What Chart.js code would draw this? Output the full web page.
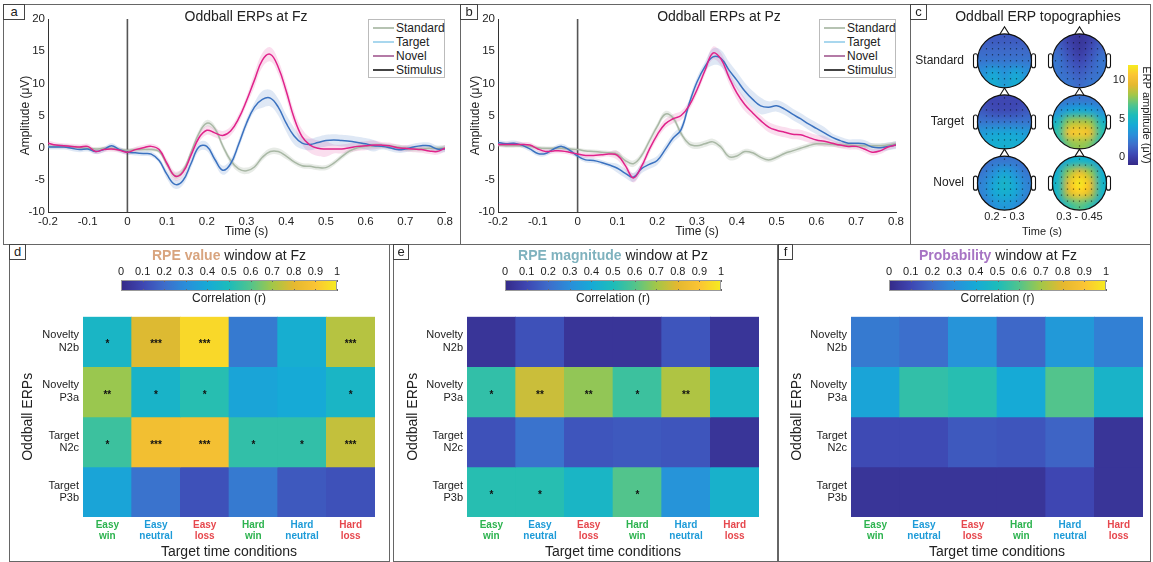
<!DOCTYPE html>
<html><head><meta charset="utf-8">
<script src="https://cdn.jsdelivr.net/npm/chart.js@4.4.1/dist/chart.umd.min.js"></script>
<style>
body{margin:0;width:1153px;height:562px;background:#fff;position:relative;overflow:hidden;font-family:'Liberation Sans',Arial,sans-serif;color:#222}
.frame{position:absolute;border:1px solid #666;box-sizing:border-box}
.lab{position:absolute;border:1px solid #444;background:#fff;font-size:13px;line-height:14px;text-align:center;box-sizing:border-box;z-index:5}
canvas{position:absolute}
.title{position:absolute;font-size:14px;white-space:nowrap;transform:translateX(-50%);line-height:16px;z-index:4}
.legend{position:absolute;border:1px solid #bbb;background:#fff;font-size:12px;box-sizing:border-box;padding-top:1px;z-index:4}
.legend div{height:14px;line-height:14px;position:relative;padding-left:27px}
.legend span{position:absolute;left:4px;top:6px;width:21px;height:0;border-top:2px solid}
</style></head><body>
<div class="frame" style="left:3px;top:4px;width:458px;height:241px"></div>
<div class="frame" style="left:460px;top:4px;width:451px;height:241px"></div>
<div class="frame" style="left:910px;top:4px;width:241px;height:241px"></div>
<div class="frame" style="left:9px;top:244px;width:381px;height:318px"></div>
<div class="frame" style="left:393px;top:244px;width:385px;height:318px"></div>
<div class="frame" style="left:778px;top:244px;width:373px;height:318px"></div>
<div class="lab" style="left:3px;top:4px;width:22px;height:16px">a</div>
<div class="lab" style="left:460px;top:4px;width:18px;height:16px">b</div>
<div class="lab" style="left:910px;top:4px;width:17px;height:16px">c</div>
<div class="lab" style="left:9px;top:244px;width:17px;height:16px">d</div>
<div class="lab" style="left:393px;top:244px;width:16px;height:16px">e</div>
<div class="lab" style="left:778px;top:244px;width:15px;height:16px">f</div>
<div class="title" style="left:246px;top:8px">Oddball ERPs at Fz</div>
<div class="title" style="left:719px;top:8px">Oddball ERPs at Pz</div>
<div class="title" style="left:1038px;top:8px">Oddball ERP topographies</div>
<div class="title" style="left:229px;top:247px"><b style="color:#d8a47e">RPE value</b> window at Fz</div>
<div class="title" style="left:613px;top:247px"><b style="color:#7fb2be">RPE magnitude</b> window at Pz</div>
<div class="title" style="left:998px;top:247px"><b style="color:#a774c4">Probability</b> window at Fz</div>

<canvas id="ca" width="455" height="238" style="left:4px;top:5px"></canvas>
<canvas id="cb" width="448" height="238" style="left:461px;top:5px"></canvas>
<canvas id="cc" width="238" height="224" style="left:911px;top:20px"></canvas>
<canvas id="ccb" width="53" height="120" style="left:1100px;top:55px"></canvas>
<canvas id="cdb" width="256" height="46" style="left:101px;top:262px"></canvas>
<canvas id="ceb" width="256" height="46" style="left:485px;top:262px"></canvas>
<canvas id="cfb" width="257" height="46" style="left:869px;top:262px"></canvas>
<canvas id="cd" width="377" height="262" style="left:10px;top:300px"></canvas>
<canvas id="ce" width="382" height="262" style="left:394px;top:300px"></canvas>
<canvas id="cf" width="372" height="262" style="left:779px;top:300px"></canvas>

<div class="legend" style="left:368px;top:19px;width:77px;height:59px">
<div><span style="border-color:#b6c3b2"></span>Standard</div>
<div><span style="border-color:#a9d7ee"></span>Target</div>
<div><span style="border-color:#b47aa6"></span>Novel</div>
<div><span style="border-color:#444"></span>Stimulus</div>
</div>
<div class="legend" style="left:819px;top:19px;width:77px;height:59px">
<div><span style="border-color:#b6c3b2"></span>Standard</div>
<div><span style="border-color:#a9d7ee"></span>Target</div>
<div><span style="border-color:#b47aa6"></span>Novel</div>
<div><span style="border-color:#444"></span>Stimulus</div>
</div>

<script>
// ---------------- DATA ----------------
const times = [-0.20,-0.18,-0.16,-0.14,-0.12,-0.10,-0.08,-0.06,-0.04,-0.02,0.00,0.02,0.04,0.06,0.08,0.10,0.12,0.14,0.16,0.18,0.20,0.22,0.24,0.26,0.28,0.30,0.32,0.34,0.36,0.38,0.40,0.42,0.44,0.46,0.48,0.50,0.52,0.54,0.56,0.58,0.60,0.62,0.64,0.66,0.68,0.70,0.72,0.74,0.76,0.78,0.80];
const stimulusTime = 0;
const ampTicksMin = -10, ampTicksMax = 20;

const fzStandard = [0.2,0.2,0.2,0.1,0.0,-0.1,-0.2,-0.1,-0.1,-0.3,-0.4,-0.3,-0.3,-0.3,-0.6,-2.6,-4.4,-3.6,-0.8,2.2,3.8,3.0,0.3,-2.0,-3.3,-3.6,-3.0,-1.5,-0.6,-0.6,-1.3,-2.2,-2.8,-2.9,-3.1,-3.1,-2.4,-1.4,-0.5,0.0,0.2,0.3,0.3,0.2,0.1,-0.1,-0.2,-0.2,-0.1,-0.1,0.0];
const fzTarget = [0.1,0.1,0.1,-0.1,-0.3,-0.2,-0.6,-0.3,0.3,-0.3,-0.7,-0.8,-0.9,-1.0,-2.0,-4.2,-5.7,-5.1,-2.5,0.1,0.2,-1.8,-3.5,-2.5,0.5,3.8,6.3,7.5,7.7,6.3,3.8,1.8,0.7,0.5,0.8,1.1,1.2,1.1,1.0,0.8,0.6,0.3,0.2,0.0,-0.3,-0.2,0.1,0.3,0.3,-0.2,-0.2];
const fzNovel = [0.7,0.4,0.3,0.2,0.1,0.2,-0.6,-0.3,-0.2,-0.4,-0.7,-0.3,0.0,0.2,-0.3,-2.5,-4.4,-3.8,-1.2,1.5,2.7,2.3,1.9,2.6,4.5,7.3,10.5,13.6,14.5,12.5,8.8,4.6,1.7,0.4,-0.1,-0.2,-0.2,-0.2,0.0,0.2,0.3,0.4,0.4,0.3,0.0,-0.1,-0.2,-0.3,-0.5,-0.6,-0.1];
const pzStandard = [0.4,0.3,0.3,0.3,0.2,0.0,-0.1,-0.1,-0.1,-0.2,-0.3,-0.5,-0.6,-0.7,-0.8,-1.0,-2.0,-2.5,-1.3,1.0,3.3,5.2,4.6,2.2,0.6,0.3,0.6,0.9,0.1,-1.4,-1.3,-0.6,-0.8,-1.5,-1.9,-1.5,-0.9,-0.5,-0.1,0.3,0.6,0.6,0.5,0.4,0.4,0.3,0.3,0.3,0.3,0.4,0.6];
const pzTarget = [0.8,0.6,0.7,0.4,-0.2,-0.9,-0.9,-0.2,0.2,-0.4,-1.3,-1.9,-2.0,-2.3,-2.7,-3.2,-4.0,-4.6,-3.3,-2.6,-2.0,-0.3,1.5,2.8,6.8,10.2,12.6,14.1,13.9,12.1,10.5,8.8,7.5,6.5,6.3,6.5,6.0,5.2,4.5,3.7,3.0,2.3,1.6,1.1,0.7,0.7,0.6,0.1,0.0,0.2,0.4];
const pzNovel = [0.5,0.5,0.5,0.5,0.4,-0.2,-0.6,-0.5,-0.5,-0.7,-1.0,-1.2,-1.2,-1.1,-1.0,-1.2,-2.8,-4.7,-3.0,-0.3,2.0,3.7,4.5,5.0,6.5,9.0,12.0,14.7,13.8,11.0,8.5,6.7,5.4,4.2,3.2,2.7,2.4,2.1,2.0,1.6,1.2,1.0,0.7,0.4,0.2,0.2,-0.2,-0.7,-0.5,0.1,0.4];

const semFzStandard = [0.3,0.3,0.3,0.3,0.3,0.3,0.3,0.3,0.3,0.3,0.3,0.3,0.3,0.3,0.3,0.5,0.5,0.5,0.5,0.5,0.5,0.5,0.5,0.5,0.5,0.5,0.5,0.5,0.5,0.5,0.5,0.4,0.4,0.4,0.4,0.4,0.4,0.4,0.4,0.4,0.4,0.4,0.4,0.4,0.4,0.4,0.4,0.4,0.4,0.4,0.4];
const semFzTarget = [0.4,0.4,0.4,0.4,0.4,0.4,0.4,0.4,0.4,0.4,0.4,0.4,0.4,0.4,0.4,0.7,0.7,0.7,0.7,0.7,0.7,0.7,0.7,0.7,0.7,0.7,0.7,1.3,1.3,1.3,1.3,1.3,0.9,0.9,0.9,0.9,0.9,0.9,0.9,0.9,0.9,0.9,0.5,0.5,0.5,0.5,0.5,0.5,0.5,0.5,0.5];
const semFzNovel = [0.4,0.4,0.4,0.4,0.4,0.4,0.4,0.4,0.4,0.4,0.4,0.4,0.4,0.4,0.4,0.7,0.7,0.7,0.7,0.7,0.7,0.7,0.7,0.7,0.7,0.7,1.1,1.1,1.1,1.1,1.1,1.1,1.2,1.2,1.2,1.2,0.7,0.7,0.7,0.7,0.7,0.7,0.5,0.5,0.5,0.5,0.5,0.5,0.5,0.5,0.5];
const semPzStandard = [0.3,0.3,0.3,0.3,0.3,0.3,0.3,0.3,0.3,0.3,0.3,0.3,0.3,0.3,0.3,0.5,0.5,0.5,0.5,0.5,0.5,0.5,0.5,0.5,0.5,0.5,0.5,0.5,0.5,0.5,0.5,0.4,0.4,0.4,0.4,0.4,0.4,0.4,0.4,0.4,0.4,0.4,0.4,0.4,0.4,0.4,0.4,0.4,0.4,0.4,0.4];
const semPzTarget = [0.4,0.4,0.4,0.4,0.4,0.4,0.4,0.4,0.4,0.4,0.4,0.4,0.4,0.4,0.4,0.7,0.7,0.7,0.7,0.7,0.7,0.7,0.7,0.7,0.7,0.7,0.7,1.3,1.3,1.3,1.3,1.3,1.3,1.3,0.9,0.9,0.9,0.9,0.9,0.9,0.9,0.9,0.6,0.6,0.6,0.6,0.6,0.6,0.6,0.6,0.6];
const semPzNovel = [0.4,0.4,0.4,0.4,0.4,0.4,0.4,0.4,0.4,0.4,0.4,0.4,0.4,0.4,0.4,0.7,0.7,0.7,0.7,0.7,0.7,0.7,0.7,0.7,0.7,0.7,0.7,1.0,1.0,1.0,1.0,1.0,0.8,0.8,0.8,0.8,0.8,0.8,0.8,0.8,0.8,0.8,0.5,0.5,0.5,0.5,0.5,0.5,0.5,0.5,0.5];

const topoRows = ['Standard','Target','Novel'];
const topoWindows = ['0.2 - 0.3','0.3 - 0.45'];
const topoMin = -1, topoMax = 12, topoTicks = [0,5,10];
const topoStandardEarly = [[1.0,1.0,1.0,1.0,1.0],[1.5,1.5,1.5,1.5,1.5],[2.0,2.0,2.0,2.0,2.0],[3.0,4.0,3.0,4.0,3.0],[3.5,4.5,3.5,4.5,3.5]];
const topoStandardLate  = [[1.0,0.0,-0.5,0.0,1.0],[1.5,0.5,-0.3,0.5,1.5],[2.0,1.0,0.3,1.0,2.0],[2.0,1.5,1.0,1.5,2.0],[2.0,2.0,1.5,2.0,2.0]];
const topoTargetEarly   = [[0.3,0.3,0.3,0.3,0.3],[1.0,0.5,0.5,0.5,1.0],[2.0,2.0,2.0,2.0,2.0],[3.5,4.0,4.0,4.0,3.5],[4.0,4.5,4.5,4.5,4.0]];
const topoTargetLate    = [[2.0,2.0,2.0,2.0,2.0],[3.0,4.0,4.5,4.0,3.0],[5.0,8.0,8.5,8.0,5.0],[6.0,10.5,11.0,10.0,6.0],[5.0,7.5,8.0,7.5,5.0]];
const topoNovelEarly    = [[1.5,2.0,2.0,2.0,1.5],[2.0,3.0,4.0,3.0,2.0],[2.5,4.0,5.0,4.0,2.5],[2.5,4.0,4.5,4.0,2.5],[2.0,3.0,3.5,3.0,2.0]];
const topoNovelLate     = [[3.5,4.5,5.0,4.5,3.5],[4.5,8.0,10.0,8.0,4.5],[5.0,10.0,12.0,10.0,5.0],[5.0,9.0,11.0,9.0,5.0],[4.0,6.0,7.0,6.0,4.0]];

const conditions = [['Easy','win'],['Easy','neutral'],['Easy','loss'],['Hard','win'],['Hard','neutral'],['Hard','loss']];
const erpLabels = [['Novelty','N2b'],['Novelty','P3a'],['Target','N2c'],['Target','P3b']];
const corrTicks = [0,0.1,0.2,0.3,0.4,0.5,0.6,0.7,0.8,0.9,1];

const rpeValueR = [
  [0.46,0.79,0.95,0.24,0.42,0.73],
  [0.69,0.45,0.52,0.38,0.40,0.46],
  [0.56,0.86,0.87,0.54,0.54,0.75],
  [0.38,0.22,0.13,0.24,0.15,0.13]];
const rpeValueSig = [
  ['*','***','***','','','***'],
  ['**','*','*','','','*'],
  ['*','***','***','*','*','***'],
  ['','','','','','']];
const rpeMagR = [
  [0.04,0.13,0.04,0.04,0.14,0.04],
  [0.54,0.76,0.68,0.56,0.72,0.46],
  [0.13,0.22,0.14,0.15,0.14,0.04],
  [0.52,0.52,0.46,0.60,0.32,0.44]];
const rpeMagSig = [
  ['','','','','',''],
  ['*','**','**','*','**',''],
  ['','','','','',''],
  ['*','*','','*','','']];
const probR = [
  [0.24,0.21,0.32,0.19,0.34,0.26],
  [0.38,0.54,0.52,0.40,0.60,0.45],
  [0.11,0.11,0.15,0.14,0.18,0.04],
  [0.04,0.04,0.04,0.04,0.10,0.04]];
const probSig = [
  ['','','','','',''],['','','','','',''],['','','','','',''],['','','','','','']];

// ---------------- STYLE ----------------
const FONT = "'Liberation Sans', Arial, sans-serif";
Chart.defaults.font.family = FONT;
Chart.defaults.color = '#222';
Chart.defaults.animation = false;
Chart.defaults.plugins.legend.display = false;
Chart.defaults.plugins.tooltip.enabled = false;
const noGrid = {display:false, drawTicks:false};

const cmapStops = [
  [0.00,[53,42,135]],[0.10,[62,70,178]],[0.20,[62,108,202]],[0.30,[42,142,218]],
  [0.40,[22,170,214]],[0.50,[28,188,186]],[0.60,[82,196,140]],[0.70,[162,199,72]],
  [0.80,[228,184,48]],[0.90,[251,196,52]],[1.00,[246,236,30]]];
function cmap(t){
  t=Math.max(0,Math.min(1,t));
  for(let i=1;i<cmapStops.length;i++){
    const [t1,c1]=cmapStops[i]; const [t0,c0]=cmapStops[i-1];
    if(t<=t1){const f=(t-t0)/(t1-t0);return c0.map((v,k)=>Math.round(v+(c1[k]-v)*f));}
  }
  return cmapStops[cmapStops.length-1][1];
}
const rgb = c => `rgb(${c[0]},${c[1]},${c[2]})`;
function gradientFor(chart, horizontal){
  const a=chart.chartArea; if(!a) return '#888';
  const g = horizontal ? chart.ctx.createLinearGradient(a.left,0,a.right,0) : chart.ctx.createLinearGradient(0,a.bottom,0,a.top);
  for(let i=0;i<=40;i++) g.addColorStop(i/40, rgb(cmap(i/40)));
  return g;
}

// ---------------- ERP line charts ----------------
function pts(vals, sem, sign){ return times.map((t,i)=>({x:t, y: sem? vals[i]+sign*sem[i] : vals[i]})); }
function erpChart(id, std, tgt, nov, sStd, sTgt, sNov, yAxisW, yTitlePad, rightPad){
  const series = [
    {v:std,s:sStd,c:'#a9b8a5',f:'rgba(169,184,165,0.28)'},
    {v:tgt,s:sTgt,c:'#3b72c0',f:'rgba(59,114,192,0.16)'},
    {v:nov,s:sNov,c:'#e0228a',f:'rgba(224,34,138,0.15)'}];
  const ds=[];
  series.forEach((s,k)=>{
    ds.push({data:pts(s.v,s.s,1),borderWidth:0,pointRadius:0,backgroundColor:s.f,fill:'+1',tension:0.4,order:10});
    ds.push({data:pts(s.v,s.s,-1),borderWidth:0,pointRadius:0,backgroundColor:s.f,fill:false,tension:0.4,order:10});
  });
  series.forEach((s,k)=>{
    ds.push({data:pts(s.v),borderColor:s.c,borderWidth:1.5,pointRadius:0,fill:false,tension:0.4,order:3-k});
  });
  ds.push({data:[{x:stimulusTime,y:ampTicksMin},{x:stimulusTime,y:ampTicksMax}],borderColor:'#555',borderWidth:1.6,pointRadius:0,fill:false,order:5});
  return new Chart(document.getElementById(id),{
    type:'line', data:{datasets:ds},
    options:{responsive:false, layout:{padding:{top:14,right:rightPad,left:0,bottom:0}},
      scales:{
        x:{type:'linear',min:-0.2,max:0.8,
           ticks:{stepSize:0.1,font:{size:11.5},padding:3,color:'#222',callback:v=>{const r=Math.round(v*10)/10;return r===0?'0':r.toFixed(1);}},
           grid:noGrid,border:{display:true,color:'#333'},
           title:{display:true,text:'Time (s)',font:{size:12},padding:{top:0,bottom:4}},
           afterFit:s=>{s.height=31;}},
        y:{type:'linear',min:ampTicksMin,max:ampTicksMax,
           ticks:{stepSize:5,font:{size:11.5},padding:3,color:'#222'},
           grid:noGrid,border:{display:true,color:'#333'},
           title:{display:true,text:'Amplitude (μV)',font:{size:12},padding:{top:yTitlePad,bottom:0}},
           afterFit:s=>{s.width=yAxisW;}}
      }}
  });
}
erpChart('ca',fzStandard,fzTarget,fzNovel,semFzStandard,semFzTarget,semFzNovel,44,14,14);
erpChart('cb',pzStandard,pzTarget,pzNovel,semPzStandard,semPzTarget,semPzNovel,37,7,13);

// ---------------- Topographies ----------------
const headRadius = 0.36;
const topoGrids = [topoStandardEarly,topoStandardLate,topoTargetEarly,topoTargetLate,topoNovelEarly,topoNovelLate];
const topoPlugin = {
  id:'topo',
  afterDatasetsDraw(chart){
    const ctx=chart.ctx, xs=chart.scales.x;
    const r = xs.getPixelForValue(headRadius)-xs.getPixelForValue(0);
    const meta = chart.getDatasetMeta(0);
    const grids = chart.data.datasets[0].grids;
    meta.data.forEach((pt,i)=>{
      const g = grids[i]; const n=g.length;
      const off=document.createElement('canvas'); off.width=n; off.height=n;
      const oc=off.getContext('2d'); const img=oc.createImageData(n,n);
      for(let a=0;a<n;a++)for(let b=0;b<n;b++){const c=cmap((g[a][b]-topoMin)/(topoMax-topoMin));const k=(a*n+b)*4;img.data[k]=c[0];img.data[k+1]=c[1];img.data[k+2]=c[2];img.data[k+3]=255;}
      oc.putImageData(img,0,0);
      const cx=pt.x, cy=pt.y;
      ctx.save();
      ctx.lineWidth=1.1; ctx.strokeStyle='#111'; ctx.fillStyle='#fff';
      [-1,1].forEach(sd=>{ctx.beginPath();ctx.roundRect(cx+sd*r-(sd<0?4:0),cy-7,4,14,2);ctx.fill();ctx.stroke();});
      ctx.beginPath();ctx.moveTo(cx-5,cy-r+1);ctx.lineTo(cx,cy-r-7);ctx.lineTo(cx+5,cy-r+1);ctx.closePath();ctx.fill();ctx.stroke();
      ctx.beginPath(); ctx.arc(cx,cy,r,0,Math.PI*2); ctx.clip();
      ctx.imageSmoothingEnabled=true; ctx.imageSmoothingQuality='high';
      ctx.drawImage(off,cx-r,cy-r,2*r,2*r);
      ctx.fillStyle='rgba(0,0,0,0.6)';
      const step=2*r/9;
      for(let a=-4;a<=4;a++)for(let b=-4;b<=4;b++){const ex=cx+a*step, ey=cy+b*step; if(Math.hypot(ex-cx,ey-cy)<r*0.9){ctx.fillRect(ex-0.6,ey-0.6,1.2,1.2);}}
      ctx.restore();
      ctx.save(); ctx.lineWidth=1.2; ctx.strokeStyle='#111';
      ctx.beginPath(); ctx.arc(cx,cy,r,0,Math.PI*2); ctx.stroke(); ctx.restore();
    });
  }
};
const topoPoints=[]; topoRows.forEach((rn,ri)=>topoWindows.forEach((wn,wi)=>topoPoints.push({x:wi,y:ri})));
new Chart(document.getElementById('cc'),{
  type:'scatter',
  data:{datasets:[{data:topoPoints,grids:topoGrids,pointRadius:0}]},
  options:{responsive:false,layout:{padding:{top:9,right:32,left:0,bottom:0}},
    scales:{
      x:{type:'linear',min:-0.5,max:1.5,afterBuildTicks:s=>{s.ticks=topoWindows.map((w,i)=>({value:i}));},
         ticks:{callback:v=>topoWindows[v],font:{size:11},padding:3,maxRotation:0,color:'#222'},
         grid:noGrid,border:{display:false},
         title:{display:true,text:'Time (s)',font:{size:11},padding:{top:0,bottom:5}},afterFit:s=>{s.height=36.4;}},
      y:{type:'linear',min:-0.5,max:2.4,reverse:true,afterBuildTicks:s=>{s.ticks=topoRows.map((w,i)=>({value:i}));},
         ticks:{callback:v=>topoRows[v],font:{size:12},padding:3,color:'#222'},
         grid:noGrid,border:{display:false},afterFit:s=>{s.width=56;}}
    }},
  plugins:[topoPlugin]
});
new Chart(document.getElementById('ccb'),{
  type:'bar',
  data:{labels:[''],datasets:[{data:[[topoMin,topoMax]],backgroundColor:c=>gradientFor(c.chart,false),borderWidth:0,barPercentage:1,categoryPercentage:1}]},
  options:{responsive:false,layout:{padding:{top:10,bottom:10,left:0,right:0}},
    scales:{
      x:{display:false},
      y:{type:'linear',min:topoMin,max:topoMax,position:'left',afterBuildTicks:s=>{s.ticks=topoTicks.map(v=>({value:v}));},
         ticks:{font:{size:11},padding:3,color:'#222'},grid:noGrid,border:{display:false},afterFit:s=>{s.width=28;}},
      y2:{type:'linear',min:topoMin,max:topoMax,position:'right',ticks:{display:false},grid:noGrid,border:{display:false},
         title:{display:true,text:'ERP amplitude (μV)',font:{size:11},padding:{top:0,bottom:0}},afterFit:s=>{s.width=15;}}
    }}
});

// ---------------- Correlation colorbars ----------------
const cbTickPlugin = {id:'cbticks',afterDatasetsDraw(chart){
  const ctx=chart.ctx,a=chart.chartArea,xs=chart.scales.x;
  ctx.save();ctx.strokeStyle='#666';ctx.lineWidth=1;
  xs.ticks.forEach(t=>{const x=Math.round(xs.getPixelForValue(t.value))+0.5;ctx.beginPath();ctx.moveTo(x,a.top);ctx.lineTo(x,a.top+2);ctx.moveTo(x,a.bottom);ctx.lineTo(x,a.bottom-2);ctx.stroke();});
  ctx.strokeStyle='#999';ctx.strokeRect(a.left+0.5,a.top+0.5,a.right-a.left-1,a.bottom-a.top-1);
  ctx.restore();}};
function colorbar(id){
  return new Chart(document.getElementById(id),{
    type:'bar',
    data:{labels:[''],datasets:[{data:[[0,1]],backgroundColor:c=>gradientFor(c.chart,true),borderWidth:0,barPercentage:1,categoryPercentage:1}]},
    options:{indexAxis:'y',responsive:false,layout:{padding:{left:20,right:20,top:0,bottom:0}},
      scales:{
        y:{display:false},
        x:{type:'linear',position:'top',min:0,max:1,afterBuildTicks:s=>{s.ticks=corrTicks.map(v=>({value:v}));},
           ticks:{font:{size:11},padding:1,maxRotation:0,autoSkip:false,color:'#222',callback:v=>(v===0||v===1)?String(v):v.toFixed(1)},
           grid:noGrid,border:{display:false},afterFit:s=>{s.height=18;}},
        x2:{type:'linear',position:'bottom',min:0,max:1,ticks:{display:false},grid:noGrid,border:{display:false},
           title:{display:true,text:'Correlation (r)',font:{size:12},padding:{top:0,bottom:2}},afterFit:s=>{s.height=17;}}
      }},
    plugins:[cbTickPlugin]
  });
}
colorbar('cdb');colorbar('ceb');colorbar('cfb');

// ---------------- Heatmaps ----------------
const condColors = ['#2db34f','#1d9bd8','#e6474d','#2db34f','#1d9bd8','#e6474d'];
const starPlugin = {id:'stars',afterDatasetsDraw(chart){
  const ctx=chart.ctx; ctx.save(); ctx.fillStyle='#111'; ctx.font='bold 10px '+FONT; ctx.textAlign='center'; ctx.textBaseline='middle';
  chart.data.datasets.forEach((ds,di)=>{chart.getDatasetMeta(di).data.forEach((el,i)=>{const s=ds.sig[i]; if(!s)return; const p=el.getCenterPoint(); ctx.fillText(s,p.x,p.y+3);});});
  ctx.restore();}};
function heatmap(id, values, sig, yW, yPad, rightPad){
  const nRows = erpLabels.length;
  const datasets = values.map((row,r)=>{const yb=nRows-1-r;return{
    data:conditions.map(()=>[yb,yb+1]), backgroundColor:row.map(v=>rgb(cmap(v))), borderWidth:0,
    barPercentage:1,categoryPercentage:1,grouped:false,sig:sig[r]};});
  return new Chart(document.getElementById(id),{
    type:'bar', data:{labels:conditions,datasets},
    options:{responsive:false,layout:{padding:{top:10,right:rightPad,left:0,bottom:0}},
      scales:{
        x:{type:'category',ticks:{color:c=>condColors[c.index],font:{size:10,weight:'bold',lineHeight:1.15},padding:2,maxRotation:0,autoSkip:false},
           grid:noGrid,border:{display:false},
           title:{display:true,text:'Target time conditions',font:{size:14},padding:{top:0,bottom:1}},afterFit:s=>{s.height=45;}},
        y:{type:'linear',min:0,max:nRows,afterBuildTicks:s=>{s.ticks=erpLabels.map((l,i)=>({value:nRows-0.5-i}));},
           ticks:{callback:v=>erpLabels[Math.round(nRows-0.5-v)],font:{size:11,lineHeight:1.15},padding:4,color:'#222'},
           grid:noGrid,border:{display:false},
           title:{display:true,text:'Oddball ERPs',font:{size:14},padding:{top:yPad,bottom:0}},afterFit:s=>{s.width=yW;}}
      }},
    plugins:[starPlugin]
  });
}
heatmap('cd',rpeValueR,rpeValueSig,73,10,12);
heatmap('ce',rpeMagR,rpeMagSig,73,11,17);
heatmap('cf',probR,probSig,72,10,8);
</script>
</body></html>
